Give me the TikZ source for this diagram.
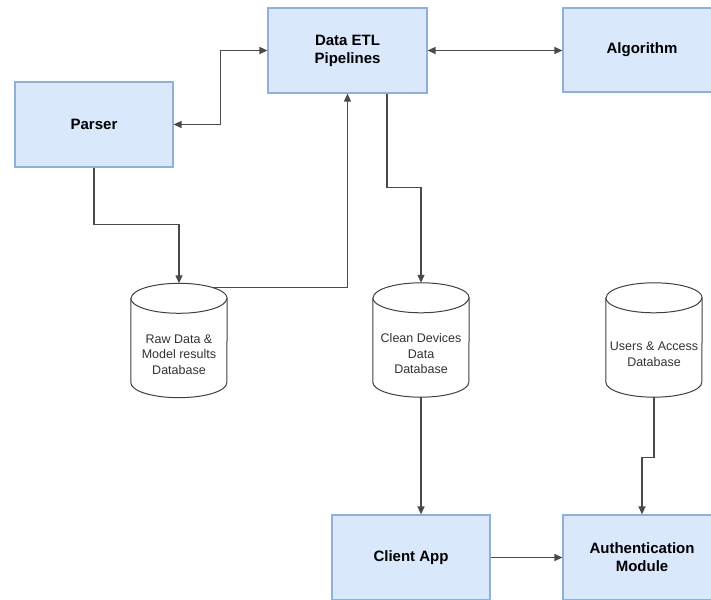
\documentclass[tikz,border=0pt]{standalone}
\usepackage{fontspec}
\setmainfont{Liberation Sans}
\usetikzlibrary{arrows.meta,calc}

\definecolor{boxfill}{HTML}{DAE8FC}
\definecolor{boxline}{HTML}{8FB0DD}
\definecolor{wire}{HTML}{4A4A4A}
\definecolor{dbtext}{HTML}{333333}

% Database cylinder drawn around an invisible node of the same name
\newcommand\dbcyl[1]{%
  \draw[dbline] ($(#1.north west)+(0,-15)$) -- ($(#1.south west)+(0,15)$)
    arc[start angle=180,end angle=360,x radius=48pt,y radius=15pt]
    -- ($(#1.north east)+(0,-15)$)
    arc[start angle=0,end angle=180,x radius=48pt,y radius=15pt] -- cycle;
  \draw[dbline] ($(#1.north west)+(0,-15)$)
    arc[start angle=180,end angle=360,x radius=48pt,y radius=15pt];
}

\tikzset{
  block/.style={draw=boxline, fill=boxfill, line width=1.2pt, inner sep=0pt,
    minimum width=158pt, minimum height=85pt, align=center,
    font=\bfseries\fontsize{15}{18}\selectfont, text=black},
  dbbody/.style={inner sep=0pt, minimum width=96pt, minimum height=114pt},
  dbline/.style={draw=black!75, line width=1pt, fill=white},
  dblabel/.style={align=center, font=\fontsize{12.5}{15.5}\selectfont, text=dbtext},
  arrow/.style={draw=wire, line width=1.3pt, -{Triangle[length=8pt,width=7pt]}},
  biarrow/.style={draw=wire, line width=1.3pt,
    {Triangle[length=8pt,width=7pt]}-{Triangle[length=8pt,width=7pt]}},
}

\begin{document}
\begin{tikzpicture}[x=1pt,y=1pt]
\useasboundingbox (0,0) rectangle (711,599);
\clip (0,0) rectangle (711,599);

% Processing blocks
\node[block] (parser) at (94,474.5) {Parser};
\node[block, minimum width=159pt] (etl) at (347.5,548.5) {Data ETL\\Pipelines};
\node[block, minimum height=84pt] (algo) at (642,549) {Algorithm};
\node[block] (client) at (411,41.5) {Client App};
\node[block] (auth) at (642,41.5) {Authentication\\Module};

% Databases
\node[dbbody] (raw) at (179,258.5) {};
\node[dbbody] (clean) at (421,259) {};
\node[dbbody] (users) at (654,259) {};
\dbcyl{raw}
\dbcyl{clean}
\dbcyl{users}
\node[dblabel] (rawtxt) at ($(raw.center)+(0,-14)$) {Raw Data \&\\Model results\\Database};
\node[dblabel] (cleantxt) at ($(clean.center)+(0,-14)$) {Clean Devices\\Data\\Database};
\node[dblabel] (userstxt) at ($(users.center)+(0,-14)$) {Users \& Access\\Database};

% Connectors
\draw[biarrow] (parser.east) -- ++(47,0) |- (etl.west);
\draw[biarrow] (etl.east) -- (etl.east -| algo.west);
\draw[arrow] (parser.south) -- ++(0,-57) -| (raw.north);
\coordinate (rawtr) at ($(raw.north)+(0,-15)+(45:48pt and 15pt)$);
\draw[arrow] (rawtr) -| (etl.south);
\coordinate (etlout) at ($(etl.south)+(39.5,0)$);
\draw[arrow] (etlout) -- ++(0,-94) -| (clean.north);
\draw[arrow] (clean.south) -- (clean.south |- client.north);
\draw[arrow] (users.south) -- ++(0,-60) -| (auth.north);
\draw[arrow] (client.east) -- (client.east -| auth.west);
\end{tikzpicture}
\end{document}
